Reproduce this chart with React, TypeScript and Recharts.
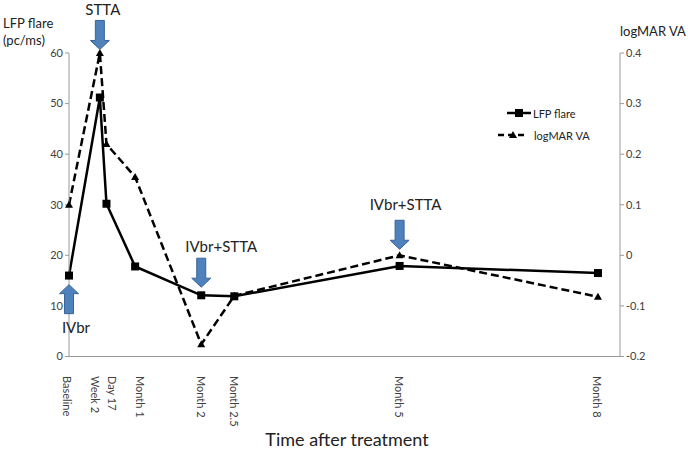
import { LineChart, Line, XAxis, YAxis, ReferenceDot } from 'recharts';

// time after treatment (days from baseline) and their labels
const days = [0, 14, 17, 30, 60, 75, 150, 240];
const timeLabels = ['Baseline', 'Week 2', 'Day 17', 'Month 1', 'Month 2', 'Month 2.5', 'Month 5', 'Month 8'];

// LFP flare (pc/ms), left axis
const lfpFlare = [16, 51.2, 30.2, 17.8, 12.1, 11.9, 17.9, 16.5];
// logMAR VA, right axis
const logMarVA = [0.1, 0.4, 0.22, 0.155, -0.176, -0.08, 0, -0.082];

// treatment arrows: day, label, value (flare axis) where the arrow tip points
const treatDays = [0, 14, 60, 150];
const treatLabels = ['IVbr', 'STTA', 'IVbr+STTA', 'IVbr+STTA'];
const treatTips = [14.2, 60.7, 13.7, 21.2];

const leftTicks = [0, 10, 20, 30, 40, 50, 60];
const rightTicks = [-0.2, -0.1, 0, 0.1, 0.2, 0.3, 0.4];

const data = days.map((d, i) => ({ day: d, label: timeLabels[i], flare: lfpFlare[i], va: logMarVA[i] }));

const FONT = 'Lato, "Open Sans", sans-serif';
const BLUE = '#4F81BD';
const BLUE_EDGE = '#3A6496';
const AXIS = '#9a9a9a';

// nudges so crowded rotated labels don't overlap (like excel does)
const labelNudge: Record<string, number> = { 'Week 2': -4, 'Day 17': 6, 'Baseline': -2, 'Month 1': 5 };
// text offset from arrow (dx)
const textDx = [7, 3, 20, 6];

const SquareDot = (p: any) => (
  <rect x={p.cx - 4} y={p.cy - 4} width={8} height={8} fill="#000" />
);
const TriDot = (p: any) => (
  <polygon points={`${p.cx},${p.cy - 4} ${p.cx + 4},${p.cy + 3} ${p.cx - 4},${p.cy + 3}`} fill="#000" />
);

const XTick = (p: any) => {
  const i = days.indexOf(p.payload.value);
  const txt = timeLabels[i] ?? '';
  const x = p.x + (labelNudge[txt] ?? 0);
  const y = 376;
  return (
    <text x={x} y={y} transform={`rotate(90, ${x}, ${y})`} textAnchor="start" dominantBaseline="central"
      fontSize={11} fill="#404040" fontFamily={FONT}>{txt}</text>
  );
};

const makeArrow = (idx: number) => (p: any) => {
  const { cx, cy } = p;
  const up = idx === 0;
  const hw = 9.5, sw = 4.5, hh = 9, len = 29;
  const s = up ? 1 : -1; // up arrow body goes downwards from tip
  const pts = [
    [cx, cy],
    [cx + hw, cy + s * hh],
    [cx + sw, cy + s * hh],
    [cx + sw, cy + s * len],
    [cx - sw, cy + s * len],
    [cx - sw, cy + s * hh],
    [cx - hw, cy + s * hh],
  ].map(q => q.join(',')).join(' ');
  const ty = up ? cy + len + 13 : cy - len - (idx === 1 ? 11 : idx === 2 ? 12 : 16);
  return (
    <g>
      <polygon points={pts} fill={BLUE} stroke={BLUE_EDGE} strokeWidth={1} />
      <text x={cx + textDx[idx]} y={ty} textAnchor="middle" dominantBaseline="central"
        fontSize={15} fill="#222" fontFamily={FONT}>{treatLabels[idx]}</text>
    </g>
  );
};

export default function App() {
  return (
    <div style={{ position: 'absolute', left: 0, top: 0, width: 688, height: 449, background: '#fff', fontFamily: FONT }}>
      <LineChart width={688} height={449} data={data} margin={{ top: 53, right: 0, bottom: 0, left: 0 }}>
        <XAxis dataKey="day" type="number" domain={[0, 250]} ticks={days} height={92.5}
          stroke={AXIS} tickLine={false} tick={<XTick />} interval={0} />
        <YAxis yAxisId="l" orientation="left" width={69} domain={[0, 60]} ticks={leftTicks}
          stroke={AXIS} tickSize={4} tick={{ fontSize: 11, fill: '#404040', fontFamily: FONT }} />
        <YAxis yAxisId="r" orientation="right" width={68} domain={[-0.2, 0.4]} ticks={rightTicks}
          stroke={AXIS} tickSize={4}
          tickFormatter={(v: number) => (Math.abs(v) < 1e-9 ? '0' : v.toFixed(1))}
          tick={{ fontSize: 11, fill: '#404040', fontFamily: FONT, textAnchor: 'start' }} />
        <Line yAxisId="r" dataKey="va" name="logMAR VA" stroke="#000" strokeWidth={2.5}
          strokeDasharray="8 4" dot={<TriDot />} activeDot={false} isAnimationActive={false} />
        <Line yAxisId="l" dataKey="flare" name="LFP flare" stroke="#000" strokeWidth={2.5}
          dot={<SquareDot />} activeDot={false} isAnimationActive={false} />
        {treatDays.map((d, i) => (
          <ReferenceDot key={i} yAxisId="l" x={d} y={treatTips[i]} r={0} ifOverflow="visible"
            shape={makeArrow(i)} />
        ))}
      </LineChart>
      <svg width={688} height={449} style={{ position: 'absolute', left: 0, top: 0, pointerEvents: 'none' }}>
        <g fontFamily={FONT} fill="#222">
          <text x={3} y={23} fontSize={13} dominantBaseline="central">LFP flare</text>
          <text x={3} y={40} fontSize={13} dominantBaseline="central">(pc/ms)</text>
          <text x={620} y={31} fontSize={13} dominantBaseline="central">logMAR VA</text>
          <text x={347} y={439} fontSize={18} textAnchor="middle" dominantBaseline="central">Time after treatment</text>
        </g>
        <g>
          <line x1={507} y1={113} x2={531} y2={113} stroke="#000" strokeWidth={2.5} />
          <rect x={515} y={109} width={8} height={8} fill="#000" />
          <text x={533} y={113} fontSize={11} fontFamily={FONT} fill="#222" dominantBaseline="central">LFP flare</text>
          <line x1={498} y1={135} x2={528} y2={135} stroke="#000" strokeWidth={2.5} strokeDasharray="6 4" />
          <polygon points="513,131 517,138 509,138" fill="#000" />
          <text x={534} y={135} fontSize={11} fontFamily={FONT} fill="#222" dominantBaseline="central">logMAR VA</text>
        </g>
      </svg>
    </div>
  );
}
